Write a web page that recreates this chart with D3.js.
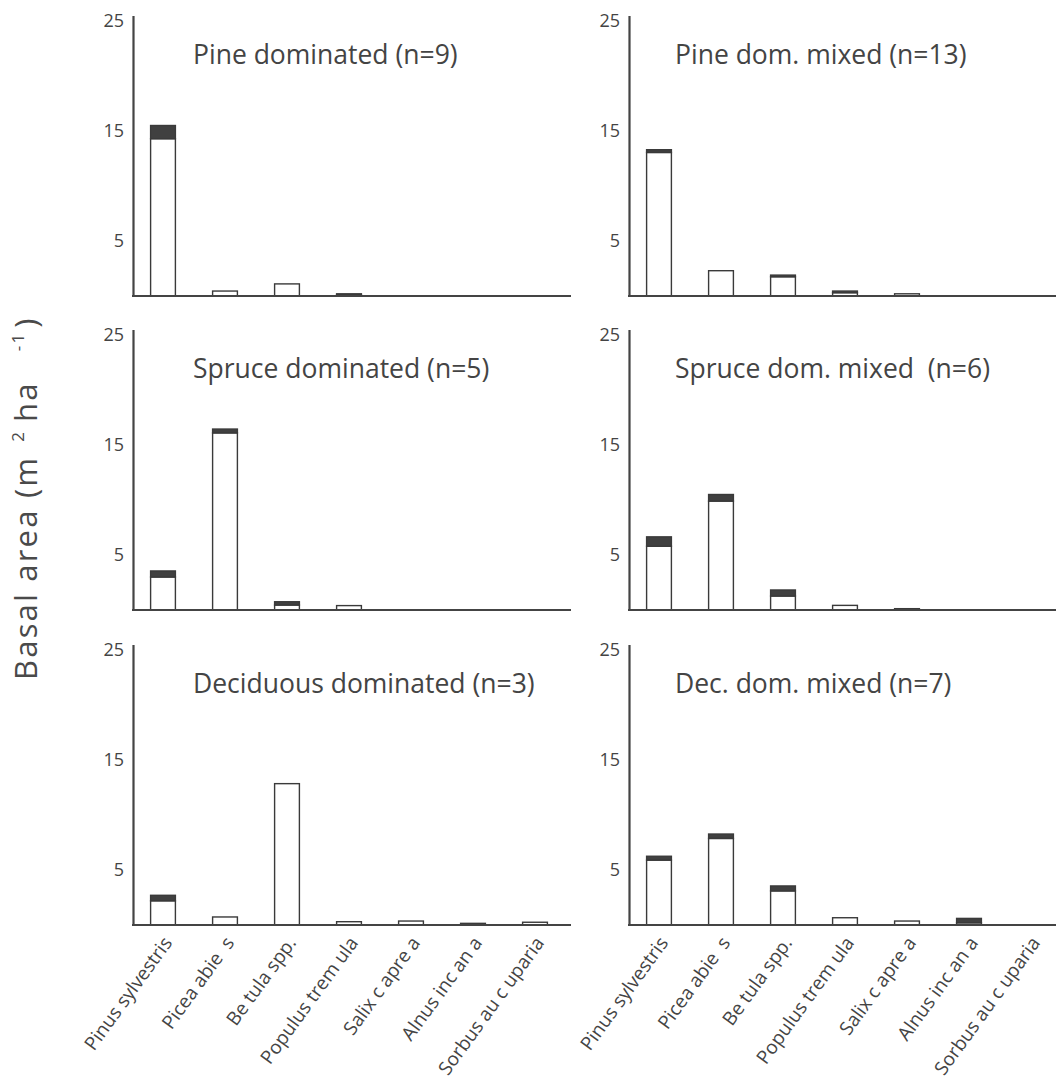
<!DOCTYPE html>
<html>
<head>
<meta charset="utf-8">
<script src="https://cdn.jsdelivr.net/npm/d3@7"></script>
<style>
  body { margin: 0; background: #fff; }
  svg { display: block; font-family: "Open Sans", sans-serif; }
</style>
</head>
<body>
<script>
// species on the x axis (text as printed in the figure)
var species = ["Pinus sylvestris", "Picea abie  s", "Be tula spp.", "Populus trem ula",
               "Salix c apre a", "Alnus inc an a", "Sorbus au c uparia"];

var panelTitles = ["Pine dominated (n=9)", "Pine dom. mixed (n=13)",
                   "Spruce dominated (n=5)", "Spruce dom. mixed  (n=6)",
                   "Deciduous dominated (n=3)", "Dec. dom. mixed (n=7)"];

// white (lower) part of each bar, m2/ha
var liveBA = [
  [14.3, 0.45, 1.1, 0.1, 0, 0, 0],
  [13.05, 2.3, 1.75, 0.3, 0.2, 0, 0],
  [3.0, 16.1, 0.45, 0.4, 0, 0, 0],
  [5.8, 9.9, 1.27, 0.42, 0, 0, 0],
  [2.2, 0.73, 12.85, 0.3, 0.36, 0, 0.25],
  [5.9, 7.87, 3.1, 0.66, 0.36, 0.2, 0]
];
// dark (upper) part of each bar, m2/ha
var darkBA = [
  [1.2, 0, 0, 0.1, 0, 0, 0],
  [0.25, 0, 0.15, 0.15, 0, 0, 0],
  [0.55, 0.35, 0.3, 0, 0, 0, 0],
  [0.85, 0.6, 0.55, 0, 0.12, 0, 0],
  [0.5, 0, 0, 0, 0, 0.15, 0],
  [0.35, 0.4, 0.45, 0, 0, 0.4, 0]
];

var yTicks = [5, 15, 25];

var W = 1056, H = 1086;
var ink = "#444";
var colAxisX = [133, 629];
var colEnd = [571, 1060];
var rowBase = [296, 610, 925];
var step = 62;

var svg = d3.select("body").append("svg")
    .attr("width", W)
    .attr("height", H);

panelTitles.forEach(function (title, i) {
    var col = i % 2, row = Math.floor(i / 2);
    var ax = colAxisX[col], base = rowBase[row];

    var x = d3.scaleBand()
        .domain(species)
        .range([ax - 1, ax - 1 + step * species.length])
        .paddingInner(0.6)
        .paddingOuter(0.3);

    var y = d3.scaleLinear()
        .domain([0, 25.5])
        .range([base, base - 280.5]);

    var g = svg.append("g");

    // bars: white part then dark cap
    var rows = species.map(function (s, j) {
        return { sp: s, live: liveBA[i][j], dark: darkBA[i][j] };
    });

    g.selectAll(".live")
        .data(rows.filter(function (d) { return d.live > 0; }))
        .enter().append("rect")
        .attr("class", "live")
        .attr("x", function (d) { return x(d.sp); })
        .attr("width", x.bandwidth())
        .attr("y", function (d) { return y(d.live); })
        .attr("height", function (d) { return y(0) - y(d.live); })
        .attr("fill", "#fff")
        .attr("stroke", "#3a3a3a")
        .attr("stroke-width", 1.4);

    g.selectAll(".dark")
        .data(rows.filter(function (d) { return d.dark > 0; }))
        .enter().append("rect")
        .attr("class", "dark")
        .attr("x", function (d) { return x(d.sp); })
        .attr("width", x.bandwidth())
        .attr("y", function (d) { return y(d.live + d.dark); })
        .attr("height", function (d) { return y(d.live) - y(d.live + d.dark); })
        .attr("fill", "#404040")
        .attr("stroke", "#3a3a3a")
        .attr("stroke-width", 1.4);

    // y axis
    var yAxis = g.append("g")
        .attr("transform", "translate(" + ax + ",0)")
        .call(d3.axisLeft(y).tickValues(yTicks).tickSize(0).tickPadding(9));
    yAxis.select(".domain").attr("stroke", ink).attr("stroke-width", 2.2);
    yAxis.selectAll("text")
        .attr("font-size", 18)
        .attr("fill", ink)
        .attr("font-family", "Open Sans, sans-serif");

    // x axis
    var xAxis = g.append("g")
        .attr("transform", "translate(0," + base + ")")
        .call(d3.axisBottom(x).tickSize(0));
    xAxis.select(".domain")
        .attr("d", "M" + (ax - 1) + ",0H" + colEnd[col])
        .attr("stroke", ink)
        .attr("stroke-width", 2.2);
    if (row < 2) {
        xAxis.selectAll(".tick text").remove();
    } else {
        xAxis.selectAll(".tick text")
            .attr("x", 0).attr("y", 0).attr("dy", 0)
            .attr("text-anchor", "end")
            .attr("transform", "translate(10,18) rotate(-54)")
            .attr("font-size", 19)
            .attr("fill", ink)
            .attr("font-family", "Open Sans, sans-serif")
            .style("white-space", "pre");
    }

    // panel title
    g.append("text")
        .attr("x", col === 0 ? ax + 60 : ax + 46)
        .attr("y", y(21.1))
        .attr("font-size", 26.5)
        .attr("fill", ink)
        .style("white-space", "pre")
        .text(title);
});

// y axis title
var yt = svg.append("text")
    .attr("transform", "translate(37,680) rotate(-90)")
    .attr("font-size", 31)
    .attr("letter-spacing", 2.2)
    .attr("fill", "#4a4a4a");
yt.append("tspan").text("Basal area (m");
yt.append("tspan").attr("dx", 14).attr("dy", -13).attr("font-size", 17).text("2");
yt.append("tspan").attr("dx", 8).attr("dy", 13).text("ha");
yt.append("tspan").attr("dx", 30).attr("dy", -13).attr("font-size", 17).text("-1");
yt.append("tspan").attr("dx", 4).attr("dy", 13).text(")");
</script>
</body>
</html>
